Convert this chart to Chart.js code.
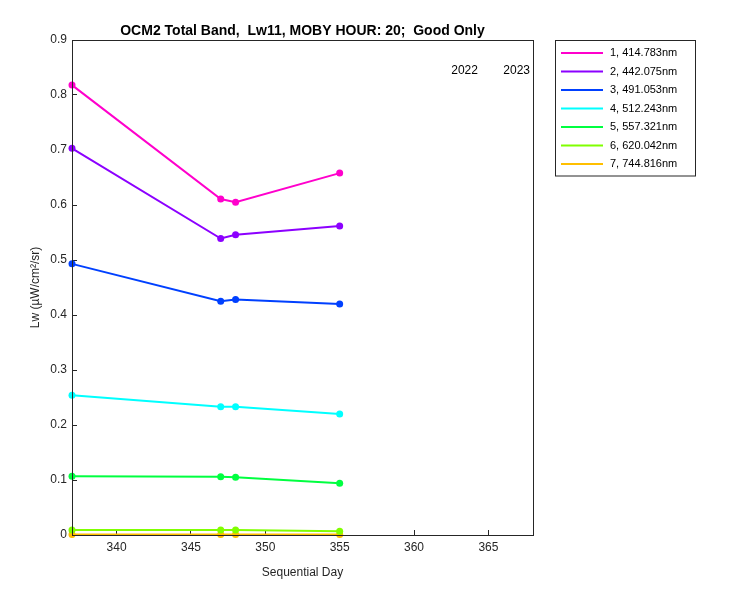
<!DOCTYPE html>
<html><head><meta charset="utf-8">
<script src="https://cdn.jsdelivr.net/npm/chart.js@4"></script>
<style>body{margin:0;background:#fff}#c{display:block}</style>
</head><body>
<canvas id="c" width="750" height="600"></canvas>
<script>
const days = [337, 347, 348, 355];
const labels = ["1, 414.783nm", "2, 442.075nm", "3, 491.053nm", "4, 512.243nm", "5, 557.321nm", "6, 620.042nm", "7, 744.816nm"];
const colors = ["#ff00cc", "#8c00ff", "#0040ff", "#00ffff", "#00ff40", "#80ff00", "#ffbf00"];
const lw1 = [0.818, 0.611, 0.605, 0.658];
const lw2 = [0.703, 0.539, 0.546, 0.562];
const lw3 = [0.493, 0.425, 0.428, 0.420];
const lw4 = [0.254, 0.233, 0.233, 0.220];
const lw5 = [0.107, 0.106, 0.105, 0.094];
const lw6 = [0.009, 0.009, 0.009, 0.007];
const lw7 = [0.001, 0.001, 0.001, 0.001];
const series = [lw1, lw2, lw3, lw4, lw5, lw6, lw7];
const xTicks = [340, 345, 350, 355, 360, 365];
const yearLabels = [{ x: 363.4, y: 0.845, text: "2022" }, { x: 366.9, y: 0.845, text: "2023" }];
const FONT = "'Liberation Sans', Arial, sans-serif";

const extras = {
    id: "extras",
    afterDraw(chart) {
        const { ctx, chartArea: a, scales } = chart;
        ctx.save();
        ctx.strokeStyle = "#262626";
        ctx.lineWidth = 1;
        ctx.strokeRect(a.left + 0.5, a.top + 0.5, a.right - a.left, a.bottom - a.top);
        ctx.fillStyle = "#000";
        ctx.font = "bold 14px " + FONT;
        ctx.textAlign = "center";
        ctx.textBaseline = "bottom";
        ctx.fillText("OCM2 Total Band,  Lw11, MOBY HOUR: 20;  Good Only", (a.left + a.right) / 2, a.top - 2);
        // axis titles
        ctx.fillStyle = "#262626";
        ctx.font = "12px " + FONT;
        ctx.textBaseline = "middle";
        ctx.fillText("Sequential Day", (a.left + a.right) / 2, 573);
        ctx.save();
        ctx.translate(36, (a.top + a.bottom) / 2);
        ctx.rotate(-Math.PI / 2);
        ctx.fillText("Lw (µW/cm²/sr)", 0, 0);
        ctx.restore();
        ctx.fillStyle = "#000";
        ctx.font = "12px " + FONT;
        yearLabels.forEach(t => ctx.fillText(t.text, scales.x.getPixelForValue(t.x), scales.y.getPixelForValue(t.y)));
        // legend box
        const lx = 555, ly = 40, lwid = 140, rowH = 18.5;
        ctx.strokeStyle = "#262626";
        ctx.lineWidth = 1;
        ctx.strokeRect(lx + 0.5, ly + 0.5, lwid, rowH * labels.length + 6);
        ctx.font = "11px " + FONT;
        ctx.textAlign = "left";
        chart.data.datasets.forEach((ds, i) => {
            const y = ly + 13 + i * rowH;
            ctx.strokeStyle = ds.borderColor;
            ctx.lineWidth = 2;
            ctx.beginPath(); ctx.moveTo(lx + 6, y); ctx.lineTo(lx + 48, y); ctx.stroke();
            ctx.fillText(ds.label, lx + 55, y);
        });
        ctx.restore();
    }
};

new Chart(document.getElementById("c"), {
    type: "line",
    data: {
        datasets: series.map((s, i) => ({
            label: labels[i],
            data: s.map((v, j) => ({ x: days[j], y: v })),
            borderColor: colors[i],
            backgroundColor: colors[i],
            borderWidth: 2,
            pointRadius: 3.5,
            pointBorderWidth: 0,
            clip: false,
        }))
    },
    options: {
        responsive: false,
        animation: false,
        layout: { padding: { top: 40, right: 217, left: 0, bottom: 0 } },
        plugins: { legend: { display: false }, tooltip: { enabled: false } },
        scales: {
            x: {
                type: "linear", min: 337, max: 368,
                afterBuildTicks: s => { s.ticks = xTicks.map(v => ({ value: v })); },
                afterFit: s => { s.height = 65; },
                grid: { drawOnChartArea: false, tickLength: -5, color: "#262626" },
                border: { color: "#262626" },
                ticks: { color: "#262626", font: { family: FONT, size: 12 }, padding: 10 }
            },
            y: {
                min: 0, max: 0.9,
                afterFit: s => { s.width = 72; },
                grid: { drawOnChartArea: false, tickLength: -5, color: "#262626" },
                border: { color: "#262626" },
                ticks: { stepSize: 0.1, color: "#262626", font: { family: FONT, size: 12 }, padding: 10,
                    callback: v => Math.round(v * 10) / 10 }
            }
        }
    },
    plugins: [extras]
});
</script>
</body></html>
